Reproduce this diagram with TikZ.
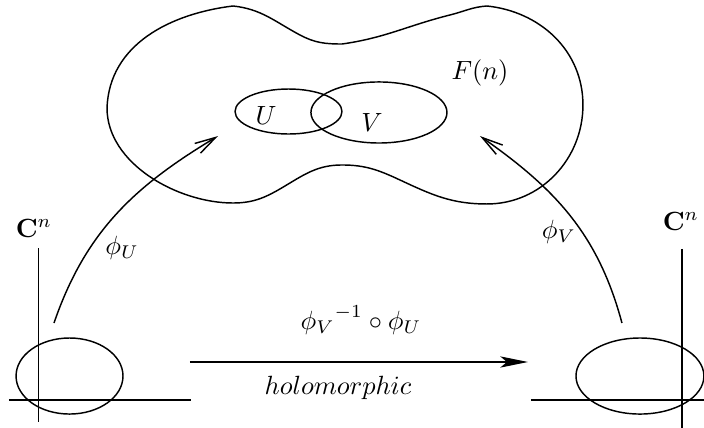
\documentclass[tikz,border=0pt]{standalone}
\usetikzlibrary{arrows.meta}
\begin{document}
\begin{tikzpicture}[scale=1.0, line width=0.55pt,
    maparrow/.style={-{Straight Barb[length=2.8mm,width=1.5mm]}},
    holoarrow/.style={-{Stealth[length=3.7mm,width=1.5mm,inset=0.9mm]}}]
    \useasboundingbox (0,0) rectangle (9.387,5.707);

    % the manifold
    \draw (1.427,4.267) to[out=88, in=187] (3.107,5.627)
        to[out=-6, in=152] (4.0,5.24)
        to[out=-28, in=180] (4.56,5.12)
        to[out=8, in=194] (6.0,5.507)
        to[out=14, in=184] (6.493,5.627)
        to[out=-6, in=90] (7.773,4.307)
        to[out=-90, in=0] (6.493,2.987)
        to[out=180, in=-25] (5.333,3.307)
        to[out=155, in=0] (4.56,3.507)
        to[out=180, in=31] (3.8,3.227)
        to[out=211, in=0] (3.107,3.0)
        to[out=180, in=-90, looseness=0.9] cycle;
    \draw (3.847,4.22) ellipse (0.713 and 0.3);
    \draw (5.053,4.207) ellipse (0.907 and 0.407);
    \node (U) at (3.547,4.173) {$U$};
    \node (V) at (4.96,4.08) {$V$};
    \node (F) at (6.4,4.733) {$F(n)$};

    % left chart
    \draw (0.513,2.4) -- (0.513,0.08);
    \draw (0.12,0.373) -- (2.547,0.373);
    \draw (0.927,0.693) ellipse (0.713 and 0.507);
    \node (CL) at (0.453,2.667) {$\mathbf{C}^n$};

    % right chart
    \draw (9.093,2.387) -- (9.093,0);
    \draw (7.08,0.373) -- (9.387,0.373);
    \draw (8.533,0.693) ellipse (0.853 and 0.507);
    \node (CR) at (9.08,2.76) {$\mathbf{C}^n$};

    % maps
    \coordinate (uA) at (0.72,1.4);
    \coordinate (uB) at (2.907,3.893);
    \coordinate (vA) at (8.293,1.4);
    \coordinate (vB) at (6.4,3.893);
    \draw[maparrow] (uA) to[out=71, in=211] (uB);
    \draw[maparrow] (vA) to[out=105, in=325] (vB);
    \node (phiU) at (1.627,2.4) {$\phi_U$};
    \node (phiV) at (7.453,2.613) {$\phi_V$};

    \coordinate (hA) at (2.533,0.88);
    \coordinate (hB) at (7.04,0.88);
    \draw[holoarrow] (hA) -- (hB);
    \node (trans) at (4.813,1.44) {${\phi_V}^{-1}\circ\phi_U$};
    \node (holo) at (4.507,0.533) {$holomorphic$};
\end{tikzpicture}
\end{document}
